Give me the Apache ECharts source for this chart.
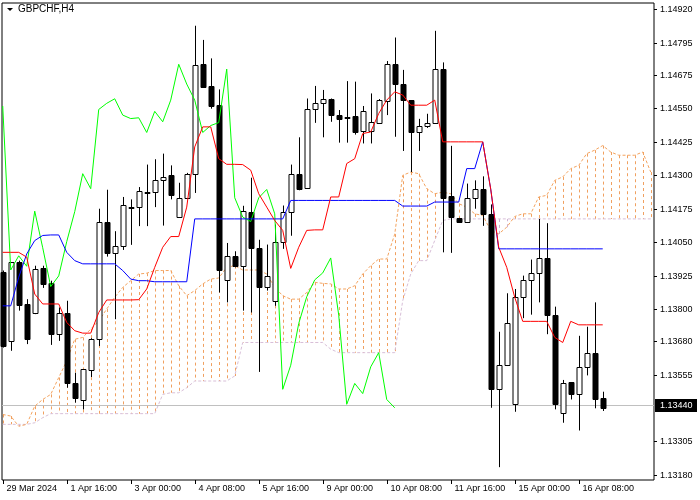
<!DOCTYPE html>
<html><head><meta charset="utf-8">
<script src="https://cdn.jsdelivr.net/npm/echarts@6/dist/echarts.min.js"></script>
<style>html,body{margin:0;padding:0;background:#fff}#c{width:700px;height:500px}</style>
</head><body><div id="c"></div>
<script>
// ---- data ----
const symbolTitle = "GBPCHF,H4";
const open  = [1.13937,1.13681,1.13975,1.13819,1.13785,1.13954,1.13896,1.13706,1.13785,1.13522,1.13459,1.13571,1.13687,1.14127,1.1401,1.14037,1.14181,1.14181,1.14236,1.14237,1.14284,1.14301,1.14144,1.14216,1.14306,1.14715,1.14634,1.14561,1.13909,1.13999,1.1396,1.14164,1.14029,1.13884,1.13829,1.14052,1.14164,1.14306,1.14252,1.14546,1.14569,1.14585,1.14527,1.14517,1.1452,1.14464,1.14464,1.14496,1.14579,1.14715,1.14641,1.14581,1.1446,1.14485,1.14497,1.14697,1.14221,1.14141,1.14127,1.14216,1.14247,1.14156,1.135,1.1359,1.13444,1.13846,1.13909,1.13935,1.13991,1.13777,1.1341,1.13527,1.13481,1.13584,1.13637,1.13466];
const close = [1.13662,1.13975,1.13816,1.13687,1.1395,1.13894,1.13706,1.13785,1.13525,1.13469,1.13575,1.13687,1.14127,1.1401,1.14037,1.1419,1.14182,1.14242,1.14239,1.14284,1.14295,1.14227,1.14216,1.14306,1.14711,1.14631,1.14559,1.13946,1.13999,1.1396,1.14166,1.14029,1.13884,1.13924,1.14052,1.14164,1.14306,1.1425,1.14546,1.14569,1.14586,1.14525,1.14512,1.14515,1.1446,1.14539,1.145,1.14581,1.14715,1.14641,1.14581,1.1446,1.14486,1.14497,1.14697,1.14216,1.14144,1.14127,1.14216,1.14247,1.14156,1.135,1.1359,1.13746,1.13846,1.13909,1.13935,1.13991,1.13777,1.13444,1.13522,1.13484,1.13584,1.13637,1.13462,1.13431];
const low   = [1.13656,1.13644,1.13794,1.13669,1.13781,1.13879,1.13666,1.13681,1.13506,1.1345,1.13425,1.13546,1.13662,1.13996,1.13762,1.14021,1.1404,1.1411,1.1411,1.14181,1.14112,1.1421,1.14141,1.14212,1.14234,1.14628,1.14549,1.13862,1.13825,1.13956,1.13794,1.13787,1.13565,1.13869,1.13812,1.14025,1.14074,1.14244,1.1425,1.14496,1.14442,1.145,1.14422,1.14422,1.14452,1.14419,1.14419,1.14496,1.14525,1.14444,1.14391,1.14312,1.14391,1.14477,1.14497,1.14012,1.1401,1.14125,1.14127,1.14175,1.14111,1.13431,1.13209,1.13587,1.13416,1.13766,1.13779,1.13825,1.13706,1.13425,1.13375,1.13462,1.13346,1.13552,1.13429,1.13419];
const high  = [1.13944,1.13975,1.13981,1.13837,1.13962,1.13962,1.13906,1.13806,1.13831,1.13562,1.13575,1.13691,1.14175,1.14246,1.14091,1.14219,1.1421,1.14256,1.1434,1.1436,1.14381,1.14337,1.14272,1.14309,1.14859,1.14806,1.14737,1.14621,1.14047,1.14016,1.14186,1.14291,1.14059,1.14041,1.14116,1.14187,1.1434,1.14442,1.14587,1.14634,1.14619,1.14587,1.14544,1.14652,1.1465,1.14559,1.14606,1.14585,1.14727,1.14815,1.14694,1.14581,1.14511,1.1453,1.1484,1.14722,1.1441,1.14141,1.14269,1.14281,1.14296,1.14191,1.13715,1.13859,1.13875,1.13925,1.13985,1.14137,1.14121,1.13809,1.13535,1.13527,1.137,1.13734,1.13825,1.13491];
const tenkan = [1.14012,1.14012,1.14012,1.13994,1.13856,1.13819,1.13819,1.13819,1.1375,1.13719,1.1371,1.1371,1.13787,1.13834,1.13834,1.13834,1.13834,1.13835,1.13875,1.13956,1.14031,1.14071,1.14071,1.14181,1.14406,1.14481,1.14481,1.14362,1.14341,1.14341,1.1434,1.14319,1.14231,1.14181,1.14131,1.14094,1.13952,1.14031,1.14094,1.14096,1.14096,1.14219,1.14219,1.14344,1.14362,1.14456,1.14462,1.14531,1.14581,1.14612,1.146,1.14562,1.14562,1.14562,1.14581,1.14425,1.14425,1.14425,1.14425,1.14425,1.14425,1.14248,1.14031,1.13956,1.13844,1.13754,1.13754,1.13754,1.13754,1.13694,1.13675,1.13754,1.13741,1.13741,1.13741,1.13741];
const kijun = [1.13812,1.13812,1.13919,1.14006,1.14056,1.14075,1.14077,1.14077,1.14012,1.13981,1.13969,1.13969,1.13969,1.13969,1.13969,1.13944,1.13912,1.13906,1.13906,1.13902,1.13902,1.13902,1.13902,1.13902,1.14137,1.14137,1.14137,1.14137,1.14137,1.14137,1.14137,1.14137,1.14137,1.14137,1.14137,1.14137,1.14206,1.14206,1.14206,1.14206,1.14206,1.14206,1.14206,1.14206,1.14206,1.14206,1.14206,1.14206,1.14206,1.14206,1.14185,1.14185,1.14185,1.14185,1.142,1.142,1.142,1.142,1.14325,1.14325,1.14425,1.14248,1.14025,1.14025,1.14025,1.14025,1.14025,1.14025,1.14025,1.14025,1.14025,1.14025,1.14025,1.14025,1.14025,1.14025];
const senkouA = [1.13406,1.134,1.13362,1.13369,1.13437,1.13462,1.13481,1.13544,1.13606,1.13687,1.13694,1.13725,1.13756,1.138,1.13844,1.13881,1.13906,1.13931,1.13934,1.13944,1.13944,1.13944,1.13887,1.1385,1.13869,1.13894,1.13912,1.13916,1.13956,1.13962,1.13946,1.13946,1.13946,1.13931,1.13881,1.1385,1.13837,1.13837,1.13862,1.139,1.13896,1.13894,1.13875,1.13875,1.13887,1.13931,1.13962,1.13987,1.13987,1.1408,1.143,1.14312,1.14306,1.1425,1.14231,1.14237,1.14231,1.14194,1.14181,1.14156,1.1415,1.14094,1.14081,1.14106,1.14146,1.14156,1.14156,1.14219,1.14225,1.14281,1.14294,1.14325,1.14337,1.14381,1.14394,1.14411,1.14387,1.14375,1.14375,1.14375,1.14387,1.14312];
const senkouB = [1.13369,1.13369,1.13369,1.13369,1.13375,1.13394,1.13409,1.13409,1.13409,1.13409,1.13409,1.13409,1.13409,1.13409,1.13409,1.13409,1.13409,1.13409,1.13409,1.13409,1.13481,1.13487,1.13487,1.13506,1.13531,1.13531,1.13531,1.13531,1.13531,1.1355,1.13675,1.13675,1.13675,1.13675,1.13675,1.13675,1.13675,1.13675,1.13675,1.13675,1.13675,1.1365,1.13637,1.13637,1.13637,1.13637,1.13637,1.13637,1.13637,1.13637,1.13831,1.13931,1.13981,1.13981,1.14056,1.14131,1.14137,1.14137,1.14137,1.14137,1.14137,1.14137,1.14137,1.14137,1.14137,1.14137,1.14137,1.14137,1.14137,1.14137,1.14137,1.14137,1.14137,1.14137,1.14137,1.14137,1.14137,1.14137,1.14137,1.14137,1.14137,1.14137];
const chikouShift = 26;
const currentPrice = [1.13440];
const yTickLabels = ["1.14920","1.14795","1.14675","1.14550","1.14425","1.14300","1.14175","1.14050","1.13925","1.13800","1.13680","1.13555","1.13305","1.13180"];
const xTickIndex = [0,8,16,24,32,40,48,56,64,72];
const xTickLabels = ["29 Mar 2024","1 Apr 16:00","3 Apr 00:00","4 Apr 08:00","5 Apr 16:00","9 Apr 00:00","10 Apr 08:00","11 Apr 16:00","15 Apr 00:00","16 Apr 08:00"];

// ---- build ----
const X_MIN = -0.09, X_MAX = 81.41, Y_MIN = 1.13161, Y_MAX = 1.14944;
const FONT = '"Liberation Sans", Arial, sans-serif';
const candles = open.map((o,i)=>[i,o,close[i],low[i],high[i]]);
const chikou = close.slice(chikouShift).map((v,i)=>[i,v]);
const ser = a => a.map((v,i)=>[i,v]);
const cloud = senkouA.map((a,i)=>[i,a,senkouB[i]]);

const chart = echarts.init(document.getElementById('c'), null, {renderer:'canvas'});
chart.setOption({
  animation:false,
  grid:{left:2,right:46,top:3,bottom:20,show:true,borderColor:'#000',borderWidth:1,backgroundColor:'#fff'},
  xAxis:{type:'value',min:X_MIN,max:X_MAX,show:false},
  yAxis:{type:'value',min:Y_MIN,max:Y_MAX,show:false,scale:true},
  graphic:[
    {type:'polygon',shape:{points:[[7,8],[13,8],[10,11]]},style:{fill:'#000'}},
    {type:'text',left:18,top:4,style:{text:symbolTitle,font:'10px '+FONT,fill:'#000'}}
  ],
  series:[
    {type:'custom',silent:true,clip:true,data:cloud,z:1,
     renderItem:(p,api)=>{const i=api.value(0),a=api.value(1),b=api.value(2);
       const pa=api.coord([i,a]),pb=api.coord([i,b]);const x=Math.round(pa[0])+0.5;
       return {type:'line',shape:{x1:x,y1:pa[1],x2:x,y2:pb[1]},style:{stroke:a>=b?'#f0a060':'#d0b0d0',lineWidth:1,lineDash:[3,3]}};}},
    {type:'custom',silent:true,clip:true,data:currentPrice.map(v=>[v]),z:1,
     renderItem:(p,api)=>{const v=api.value(0);const a=api.coord([X_MIN,v]),b=api.coord([X_MAX,v]);const y=Math.round(a[1])+0.5;
       return {type:'line',shape:{x1:a[0],y1:y,x2:b[0],y2:y},style:{stroke:'#c0c0c0',lineWidth:1}};}},
    {type:'line',data:ser(senkouB),showSymbol:false,silent:true,z:2,lineStyle:{color:'#d8bfd8',width:1,type:[3,2]}},
    {type:'line',data:ser(senkouA),showSymbol:false,silent:true,z:2,lineStyle:{color:'#f4a460',width:1,type:[3,2]}},
    {type:'custom',silent:true,data:candles,z:3,
     renderItem:(p,api)=>{const i=api.value(0),o=api.value(1),c=api.value(2),l=api.value(3),h=api.value(4);
       const po=api.coord([i,o]),pc=api.coord([i,c]),pl=api.coord([i,l]),ph=api.coord([i,h]);
       const x=Math.round(po[0])+0.5;const top=Math.round(Math.min(po[1],pc[1]))+0.5;const bot=Math.round(Math.max(po[1],pc[1]))+0.5;
       const bull=c>=o;
       return {type:'group',children:[
         {type:'line',shape:{x1:x,y1:ph[1],x2:x,y2:pl[1]},style:{stroke:'#000',lineWidth:1}},
         {type:'rect',shape:{x:x-2.5,y:top,width:5,height:Math.max(bot-top,1)},style:{fill:bull?'#fff':'#000',stroke:'#000',lineWidth:1}}
       ]};}},
    {type:'line',data:chikou,showSymbol:false,silent:true,z:4,lineStyle:{color:'#00ff00',width:1}},
    {type:'line',data:ser(kijun),showSymbol:false,silent:true,z:4,lineStyle:{color:'#0000ff',width:1}},
    {type:'line',data:ser(tenkan),showSymbol:false,silent:true,z:4,lineStyle:{color:'#ff0000',width:1}},
    {type:'custom',silent:true,clip:false,data:yTickLabels.map(t=>[parseFloat(t)]),z:5,
     renderItem:(p,api)=>{const v=api.value(0);const pt=api.coord([X_MAX,v]);const y=Math.round(pt[1])+0.5;
       return {type:'group',children:[
         {type:'line',shape:{x1:pt[0],y1:y,x2:pt[0]+3,y2:y},style:{stroke:'#000',lineWidth:1}},
         {type:'text',x:pt[0]+6,y:y,style:{text:yTickLabels[p.dataIndex],font:'9px '+FONT,fill:'#000',verticalAlign:'middle',align:'left'}}
       ]};}},
    {type:'custom',silent:true,clip:false,data:currentPrice.map(v=>[v]),z:6,
     renderItem:(p,api)=>{const v=api.value(0);const pt=api.coord([X_MAX,v]);const y=Math.round(pt[1]);
       return {type:'group',children:[
         {type:'rect',shape:{x:pt[0]+1,y:y-6,width:42,height:13},style:{fill:'#000'}},
         {type:'text',x:pt[0]+6,y:y+0.5,style:{text:v.toFixed(5),font:'9px '+FONT,fill:'#fff',verticalAlign:'middle',align:'left'}}
       ]};}},
    {type:'custom',silent:true,clip:false,data:xTickIndex.map(i=>[i]),z:5,
     renderItem:(p,api)=>{const i=api.value(0);const pt=api.coord([i,Y_MIN]);const x=Math.round(pt[0])+0.5;
       return {type:'group',children:[
         {type:'line',shape:{x1:x,y1:pt[1],x2:x,y2:pt[1]+4},style:{stroke:'#000',lineWidth:1}},
         {type:'text',x:x+3,y:pt[1]+9,style:{text:xTickLabels[p.dataIndex],font:'9px '+FONT,fill:'#000',verticalAlign:'middle',align:'left'}}
       ]};}}
  ]
});
</script></body></html>
